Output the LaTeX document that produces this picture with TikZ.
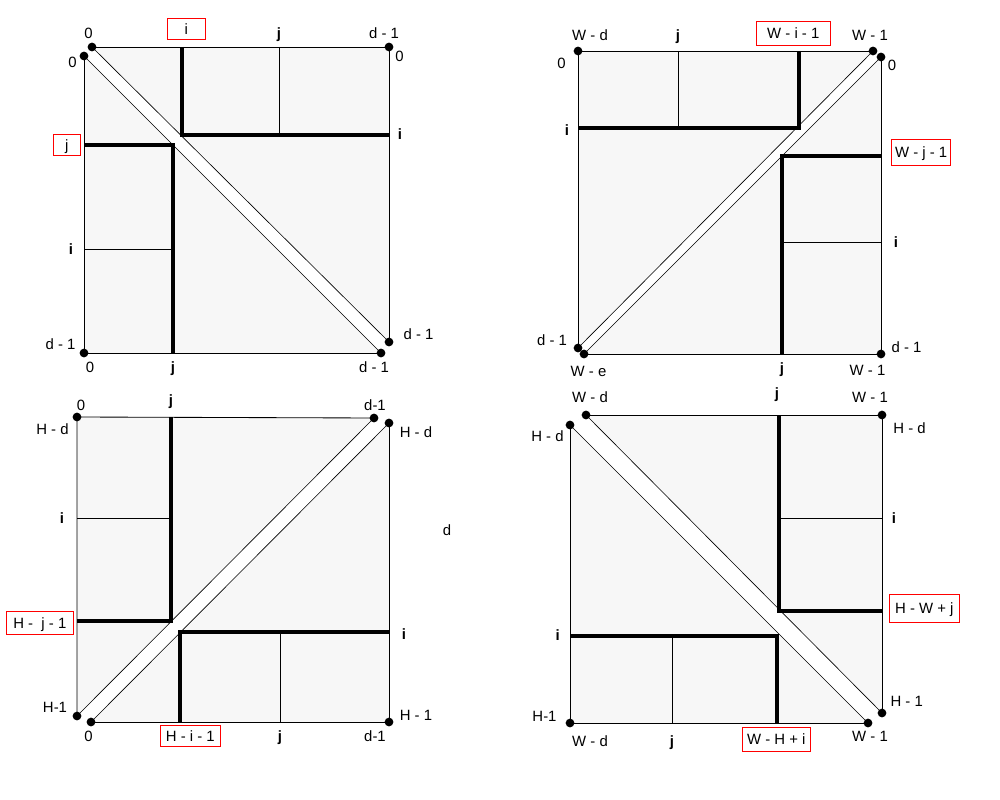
\documentclass[tikz,border=0pt]{standalone}
\usepackage{fontspec}
\setmainfont{Liberation Sans}
\definecolor{cellgray}{RGB}{247,247,247}
\newcommand{\lblfont}{\fontsize{10.6}{12}\selectfont}
\tikzset{
  frame edge/.style={
    line width=0.6pt
  },
  band edge/.style={
    line width=0.45pt
  },
  bold split/.style={
    line width=2.2pt
  },
  fine split/.style={
    line width=0.6pt
  },
  end dot/.style={
    circle,
    fill=black,
    inner sep=2.2pt
  },
  coord label/.style={
    font=\lblfont,
    inner sep=0pt,
    text height=7.6pt,
    text depth=0pt
  },
  index label/.style={
    coord label,
    font=\lblfont\bfseries
  },
  moved label/.style 2 args={
    coord label,
    draw=red,
    line width=0.6pt,
    minimum width=#1,
    minimum height=#2
  }
}

\begin{document}
\begin{tikzpicture}[x=0.025cm,y=-0.025cm]

    \useasboundingbox (0,0) rectangle (1000,800);

    % ---------- top left ----------
    \begin{scope}
      \coordinate (aA) at (92,47);
      \coordinate (aB) at (389,47);
      \coordinate (aC) at (389,342);
      \coordinate (aD) at (381,353);
      \coordinate (aE) at (84,353);
      \coordinate (aF) at (84,56);

      % area and band
      \fill[cellgray] (aA) -- (aB) -- (aC) -- (aD) -- (aE) -- (aF) -- cycle;
      \fill[white] (aF) -- (aA) -- (aC) -- (aD) -- cycle;

      % frame
      \draw[frame edge] (aA) -- (aB) -- (aC);
      \draw[frame edge] (aF) -- (aE) -- (aD);
      \draw[band edge] (aF) -- (aD);
      \draw[band edge] (aA) -- (aC);

      % splits
      \draw[bold split] (182,47) -- (182,135) -- (389,135);
      \draw[fine split] (279,47) -- (279,135);
      \draw[bold split] (84,145) -- (173,145) -- (173,353);
      \draw[fine split] (84,249) -- (173,249);

      \node[end dot] (aA1) at (aA) {};
      \node[end dot] (aB1) at (aB) {};
      \node[end dot] (aC1) at (aC) {};
      \node[end dot] (aD1) at (aD) {};
      \node[end dot] (aE1) at (aE) {};
      \node[end dot] (aF1) at (aF) {};

      % labels
      \node[coord label] (aTop0) at (88.5,33.5) {0};
      \node[moved label={0.95cm}{0.525cm}] (aTopI) at (186.3,28.8) {i};
      \node[index label] (aTopJ) at (279,33.5) {j};
      \node[coord label] (aTopD) at (384,33.5) {d - 1};
      \node[coord label] (aLeft0) at (72.5,62.5) {0};
      \node[coord label] (aRight0) at (399.5,56.5) {0};
      \node[index label] (aRightI) at (400,134.5) {i};
      \node[moved label={0.675cm}{0.515cm}] (aLeftJ) at (66.8,145) {j};
      \node[index label] (aLeftI) at (71,249.5) {i};
      \node[coord label] (aLeftD) at (60.5,344) {d - 1};
      \node[coord label] (aRightD) at (418.5,334) {d - 1};
      \node[coord label] (aBot0) at (90,367) {0};
      \node[index label] (aBotJ) at (173,367) {j};
      \node[coord label] (aBotD) at (374,367) {d - 1};
    \end{scope}

    % ---------- top right ----------
    \begin{scope}
      \coordinate (bA) at (578,51);
      \coordinate (bB) at (873,51);
      \coordinate (bC) at (881,57);
      \coordinate (bD) at (881,354);
      \coordinate (bE) at (584,354);
      \coordinate (bF) at (578,348);

      % area and band
      \fill[cellgray] (bA) -- (bB) -- (bC) -- (bD) -- (bE) -- (bF) -- cycle;
      \fill[white] (bB) -- (bC) -- (bE) -- (bF) -- cycle;

      % frame
      \draw[frame edge] (bF) -- (bA) -- (bB);
      \draw[frame edge] (bC) -- (bD) -- (bE);
      \draw[band edge] (bB) -- (bF);
      \draw[band edge] (bC) -- (bE);

      % splits
      \draw[bold split] (799,51) -- (799,128) -- (578,128);
      \draw[fine split] (678,51) -- (678,128);
      \draw[bold split] (881,156) -- (782,156) -- (782,354);
      \draw[fine split] (782,242) -- (881,242);

      \node[end dot] (bA1) at (bA) {};
      \node[end dot] (bB1) at (bB) {};
      \node[end dot] (bC1) at (bC) {};
      \node[end dot] (bD1) at (bD) {};
      \node[end dot] (bE1) at (bE) {};
      \node[end dot] (bF1) at (bF) {};

      % labels
      \node[coord label] (bTopWd) at (590,35.5) {W - d};
      \node[index label] (bTopJ) at (678,35.5) {j};
      \node[moved label={1.85cm}{0.59cm}] (bTopI) at (793.3,33.2) {W - i - 1};
      \node[coord label] (bTopW1) at (870,35.5) {W - 1};
      \node[coord label] (bLeft0) at (561.5,63) {0};
      \node[coord label] (bRight0) at (892,65.5) {0};
      \node[index label] (bLeftI) at (567,130) {i};
      \node[moved label={1.475cm}{0.64cm}] (bRightJ) at (921.2,152.2) {W - j - 1};
      \node[index label] (bRightI) at (896,242.5) {i};
      \node[coord label] (bLeftD) at (552,340) {d - 1};
      \node[coord label] (bRightD) at (906.5,347) {d - 1};
      \node[coord label] (bBotWe) at (588.5,371) {W - e};
      \node[index label] (bBotJ) at (782,368) {j};
      \node[coord label] (bBotW1) at (867.5,370) {W - 1};
    \end{scope}

    % ---------- bottom left ----------
    \begin{scope}
      \coordinate (cA) at (77,417);
      \coordinate (cB) at (374,418);
      \coordinate (cC) at (389,423);
      \coordinate (cD) at (389,722);
      \coordinate (cE) at (91,722);
      \coordinate (cF) at (77,716);

      % area and band
      \fill[cellgray] (cA) -- (cB) -- (cC) -- (cD) -- (cE) -- (cF) -- cycle;
      \fill[white] (cB) -- (cC) -- (cE) -- (cF) -- cycle;

      % frame
      \draw[frame edge] (cF) -- (cA) -- (cB);
      \draw[frame edge] (cC) -- (cD) -- (cE);
      \draw[band edge] (cB) -- (cF);
      \draw[band edge] (cC) -- (cE);

      % splits
      \draw[bold split] (171,417) -- (171,621) -- (77,621);
      \draw[fine split] (77,518) -- (171,518);
      \draw[bold split] (389,632) -- (180,632) -- (180,722);
      \draw[fine split] (280,632) -- (280,722);

      \node[end dot] (cA1) at (cA) {};
      \node[end dot] (cB1) at (cB) {};
      \node[end dot] (cC1) at (cC) {};
      \node[end dot] (cD1) at (cD) {};
      \node[end dot] (cE1) at (cE) {};
      \node[end dot] (cF1) at (cF) {};

      % labels
      \node[coord label] (cTop0) at (81,405) {0};
      \node[index label] (cTopJ) at (171,400) {j};
      \node[coord label] (cTopD) at (375,405) {d-1};
      \node[coord label] (cLeftHd) at (52.5,429) {H - d};
      \node[coord label] (cRightHd) at (416,432) {H - d};
      \node[index label] (cLeftI) at (62,518.5) {i};
      \node[moved label={1.675cm}{0.565cm}] (cLeftJ) at (39.8,623) {H - \ j - 1};
      \node[index label] (cRightI) at (404,634) {i};
      \node[coord label] (cLeftH1) at (55,707) {H-1};
      \node[coord label] (cRightH1) at (416,715) {H - 1};
      \node[coord label] (cBot0) at (88.5,736) {0};
      \node[moved label={1.5cm}{0.53cm}] (cBotI) at (190.3,735.7) {H - i - 1};
      \node[index label] (cBotJ) at (280,736) {j};
      \node[coord label] (cBotD) at (375,736) {d-1};
    \end{scope}

    % ---------- bottom right ----------
    \begin{scope}
      \coordinate (dA) at (586,415);
      \coordinate (dB) at (882,415);
      \coordinate (dC) at (882,713);
      \coordinate (dD) at (868,723);
      \coordinate (dE) at (570,723);
      \coordinate (dF) at (570,425);

      % area and band
      \fill[cellgray] (dA) -- (dB) -- (dC) -- (dD) -- (dE) -- (dF) -- cycle;
      \fill[white] (dF) -- (dA) -- (dC) -- (dD) -- cycle;

      % frame
      \draw[frame edge] (dA) -- (dB) -- (dC);
      \draw[frame edge] (dF) -- (dE) -- (dD);
      \draw[band edge] (dF) -- (dD);
      \draw[band edge] (dA) -- (dC);

      % splits
      \draw[bold split] (779,415) -- (779,611) -- (882,611);
      \draw[fine split] (779,518) -- (882,518);
      \draw[bold split] (570,636) -- (777,636) -- (777,723);
      \draw[fine split] (672,636) -- (672,723);

      \node[end dot] (dA1) at (dA) {};
      \node[end dot] (dB1) at (dB) {};
      \node[end dot] (dC1) at (dC) {};
      \node[end dot] (dD1) at (dD) {};
      \node[end dot] (dE1) at (dE) {};
      \node[end dot] (dF1) at (dF) {};

      % labels
      \node[coord label] (dTopWd) at (590,397) {W - d};
      \node[index label] (dTopJ) at (777,393) {j};
      \node[coord label] (dTopW1) at (870,397) {W - 1};
      \node[coord label] (dLeftHd) at (547.5,436) {H - d};
      \node[coord label] (dRightHd) at (909.5,428.5) {H - d};
      \node[index label] (dRightI) at (894,518.5) {i};
      \node[moved label={1.75cm}{0.69cm}] (dRightJ) at (924.3,608.2) {H - W + j};
      \node[index label] (dLeftI) at (557.7,635) {i};
      \node[coord label] (dLeftH1) at (544.5,716) {H-1};
      \node[coord label] (dRightH1) at (906.7,701) {H - 1};
      \node[coord label] (dBotWd) at (590,741) {W - d};
      \node[index label] (dBotJ) at (672,741) {j};
      \node[moved label={1.7cm}{0.6cm}] (dBotI) at (776.3,739.3) {W - H + i};
      \node[coord label] (dBotW1) at (870,736) {W - 1};
    \end{scope}

    % between the panels
    \node[coord label] (gap) at (447,530) {d};

\end{tikzpicture}
\end{document}
